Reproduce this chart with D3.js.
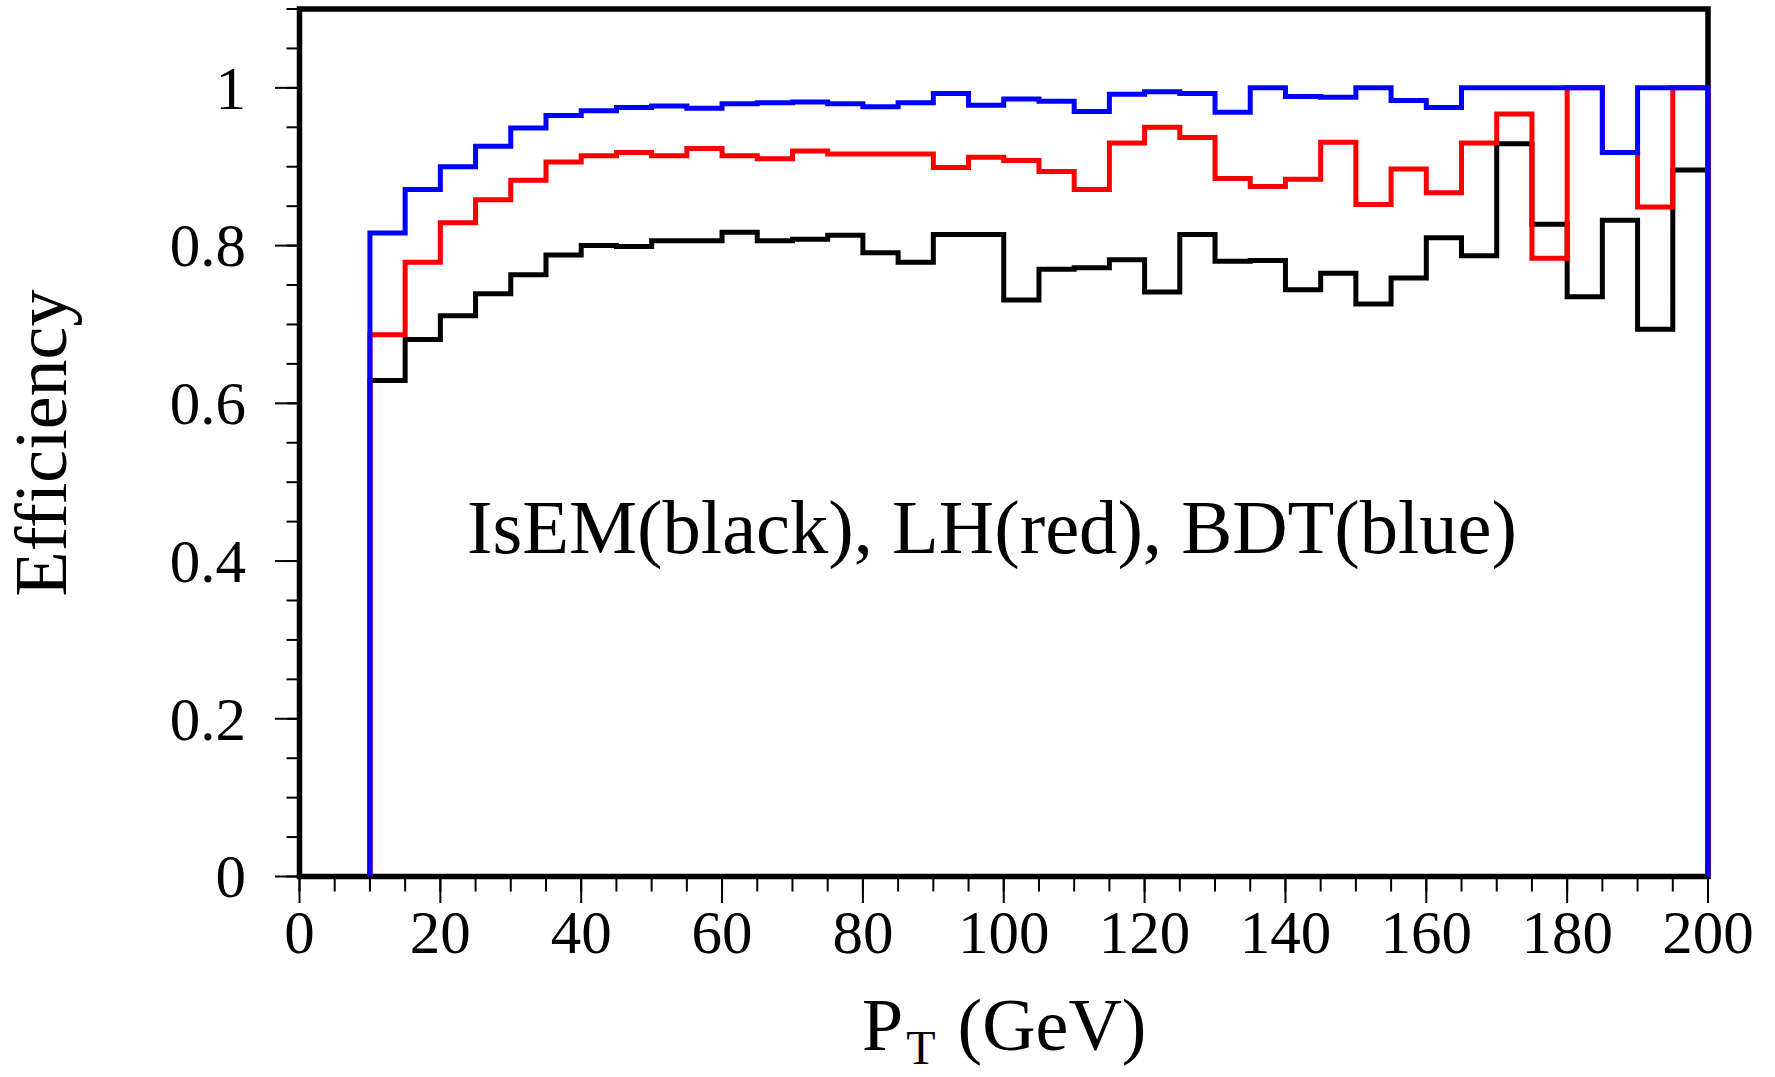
<!DOCTYPE html>
<html>
<head>
<meta charset="utf-8">
<script src="https://cdn.jsdelivr.net/npm/d3@7"></script>
<style>
  html, body { margin: 0; padding: 0; background: #fff; }
  svg { display: block; }
  text { font-family: "Liberation Serif", "Times New Roman", serif; fill: #000; }
</style>
</head>
<body>
<svg id="chart" width="1775" height="1077"></svg>
<script>
// ---- Data ----
const binLow = [10,15,20,25,30,35,40,45,50,55,60,65,70,75,80,85,90,95,100,105,
                110,115,120,125,130,135,140,145,150,155,160,165,170,175,180,185,190,195];
const binWidth = 5;

const isemBlack = [0.629,0.681,0.711,0.739,0.763,0.788,0.800,0.799,0.806,0.806,
                   0.817,0.806,0.808,0.813,0.791,0.779,0.814,0.814,0.731,0.770,
                   0.772,0.782,0.741,0.814,0.780,0.781,0.744,0.765,0.726,0.759,
                   0.810,0.787,0.929,0.827,0.735,0.832,0.694,0.896];
const lhRed     = [0.687,0.779,0.829,0.858,0.883,0.906,0.914,0.918,0.914,0.923,
                   0.914,0.910,0.920,0.916,0.916,0.916,0.899,0.912,0.908,0.894,
                   0.871,0.930,0.950,0.937,0.885,0.875,0.884,0.931,0.852,0.897,
                   0.867,0.930,0.967,0.784,1.000,0.918,0.849,1.000];
const bdtBlue   = [0.816,0.871,0.900,0.926,0.949,0.965,0.971,0.975,0.977,0.974,
                   0.980,0.981,0.982,0.980,0.976,0.981,0.993,0.978,0.986,0.983,
                   0.970,0.992,0.995,0.993,0.969,1.000,0.989,0.988,1.000,0.984,
                   0.975,1.000,1.000,1.000,1.000,0.918,1.000,1.000];

const xMajorTicks = [0,20,40,60,80,100,120,140,160,180,200];
const yMajorTicks = [0,0.2,0.4,0.6,0.8,1.0];
const yTickLabels = ["0","0.2","0.4","0.6","0.8","1"];

const series = [
  { name: "IsEM", values: isemBlack, color: "#000000" },
  { name: "LH",   values: lhRed,     color: "#ff0000" },
  { name: "BDT",  values: bdtBlue,   color: "#0000ff" }
];

// ---- Layout ----
const L = 299.5, R = 1708, T = 9, B = 876.5;
const x = d3.scaleLinear().domain([0, 200]).range([L, R]);
const y = d3.scaleLinear().domain([0, 1.1]).range([B, T]);

const svg = d3.select("#chart");

// Frame
svg.append("rect")
  .attr("x", L).attr("y", T)
  .attr("width", R - L).attr("height", B - T)
  .attr("fill", "none").attr("stroke", "#000").attr("stroke-width", 5.5);

// X axis ticks (minor + major) and labels
const xMinor = d3.range(0, 200.001, 5);
const gx = svg.append("g").attr("transform", `translate(0,${B})`);
gx.selectAll("line.minor").data(xMinor).join("line")
  .attr("x1", d => x(d)).attr("x2", d => x(d))
  .attr("y1", 2.5).attr("y2", 15)
  .attr("stroke", "#000").attr("stroke-width", 2);
gx.selectAll("line.major").data(xMajorTicks).join("line")
  .attr("x1", d => x(d)).attr("x2", d => x(d))
  .attr("y1", 2.5).attr("y2", 26.5)
  .attr("stroke", "#000").attr("stroke-width", 2);
gx.selectAll("text").data(xMajorTicks).join("text")
  .attr("x", d => x(d)).attr("y", 76.5)
  .attr("text-anchor", "middle")
  .attr("font-size", 61)
  .text(d => d);

// Y axis ticks and labels
const yMinor = d3.range(0, 1.1001, 0.05);
const gy = svg.append("g").attr("transform", `translate(${L},0)`);
gy.selectAll("line.minor").data(yMinor).join("line")
  .attr("x1", -2.5).attr("x2", -13)
  .attr("y1", d => y(d)).attr("y2", d => y(d))
  .attr("stroke", "#000").attr("stroke-width", 2);
gy.selectAll("line.major").data(yMajorTicks).join("line")
  .attr("x1", -2.5).attr("x2", -24.5)
  .attr("y1", d => y(d)).attr("y2", d => y(d))
  .attr("stroke", "#000").attr("stroke-width", 2);
gy.selectAll("text").data(yMajorTicks).join("text")
  .attr("x", -53.5).attr("y", d => y(d))
  .attr("dy", "0.34em")
  .attr("text-anchor", "end")
  .attr("font-size", 61)
  .text((d, i) => yTickLabels[i]);

// Histograms (step outlines)
const line = d3.line().x(p => x(p[0])).y(p => y(p[1]));
series.forEach(s => {
  const pts = [[binLow[0], 0]];
  s.values.forEach((v, i) => {
    pts.push([binLow[i], v]);
    pts.push([binLow[i] + binWidth, v]);
  });
  pts.push([binLow[binLow.length - 1] + binWidth, 0]);
  svg.append("path")
    .attr("d", line(pts))
    .attr("fill", "none")
    .attr("stroke", s.color)
    .attr("stroke-width", 5)
    .attr("stroke-linejoin", "miter");
});

// Annotation
svg.append("text")
  .attr("x", 467).attr("y", 553)
  .attr("font-size", 77)
  .attr("textLength", 1050)
  .attr("lengthAdjust", "spacingAndGlyphs")
  .text("IsEM(black), LH(red), BDT(blue)");

// Y title
svg.append("text")
  .attr("transform", "translate(66,443) rotate(-90)")
  .attr("text-anchor", "middle")
  .attr("font-size", 74)
  .text("Efficiency");

// X title
const xt = svg.append("text")
  .attr("x", 862).attr("y", 1050)
  .attr("font-size", 74);
xt.append("tspan").text("P");
xt.append("tspan").attr("dx", 3).attr("dy", 14).attr("font-size", 48).text("T");
xt.append("tspan").attr("dx", 22).attr("dy", -14).attr("font-size", 74).text("(GeV)");
</script>
</body>
</html>
